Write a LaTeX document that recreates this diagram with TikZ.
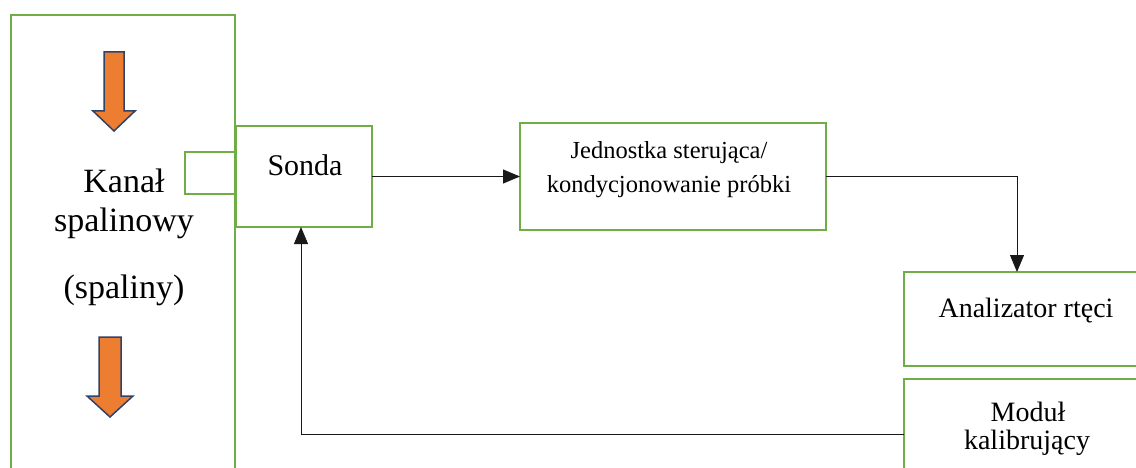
\documentclass[tikz,border=0pt]{standalone}
\usepackage{fontspec}
\setmainfont{Liberation Serif}
\usetikzlibrary{arrows.meta}
\definecolor{grn}{HTML}{70AD47}
\definecolor{org}{HTML}{ED7D31}
\definecolor{nvy}{HTML}{2F4268}
\begin{document}
\begin{tikzpicture}[x=1pt,y=-1pt,
  box/.style={draw=grn,line width=2pt,rectangle,inner sep=0,outer sep=0},
  lbl/.style={inner sep=0,anchor=base,font=\fontsize{#1}{#1}\selectfont},
  conn/.style={draw=black!90,line width=1pt,-{Triangle[length=17pt,width=14pt]}},
  flow/.style={fill=org,draw=nvy,line width=1.5pt,line join=miter}]
\useasboundingbox (0,0) rectangle (1136,468);
\clip (0,0) rectangle (1136,468);
% boxes
\node[box,minimum width=224,minimum height=505] (chan) at (123,267.5) {};
\node[box,minimum width=50,minimum height=42] (stub) at (210,173) {};
\node[box,minimum width=136,minimum height=101] (sonda) at (304,176.5) {};
\node[box,minimum width=306,minimum height=107] (jed) at (673,176.5) {};
\node[box,minimum width=256,minimum height=94] (ana) at (1032,319) {};
\node[box,minimum width=256,minimum height=111] (mod) at (1032,434.5) {};
% texts
\node[lbl=34] (t1) at (124,193) {Kanał};
\node[lbl=34] (t2) at (124,232) {spalinowy};
\node[lbl=34] (t3) at (124,298) {(spaliny)};
\node[lbl=30] (t4) at (305,176) {Sonda};
\node[lbl=24.5] (t5) at (669,159) {Jednostka sterująca/};
\node[lbl=24.5] (t6) at (669,193) {kondycjonowanie próbki};
\node[lbl=28] (t7) at (1026,317) {Analizator rtęci};
\node[lbl=28] (t8) at (1028,421) {Moduł};
\node[lbl=28] (t9) at (1027,449) {kalibrujący};
% flow arrows
\draw[flow] (104,52)--(124,52)--(124,111)--(135,111)--(114,131)--(93,111)--(104,111)--cycle;
\draw[flow] (99,337)--(121,337)--(121,396)--(133,396)--(110,417)--(87,396)--(99,396)--cycle;
% connectors
\coordinate (anain) at (1017,272);
\coordinate (sondain) at (301,227);
\draw[conn] (sonda) -- (jed);
\draw[conn] (jed.east) -| (anain);
\draw[conn] (mod.west) -| (sondain);
\end{tikzpicture}
\end{document}
